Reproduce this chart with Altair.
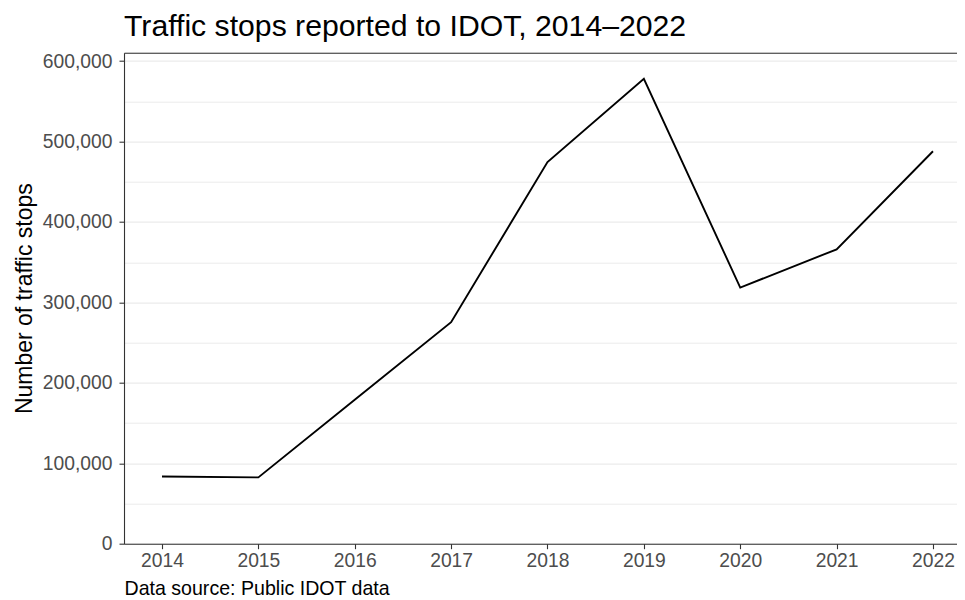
import altair as alt
import pandas as pd

years = [2014, 2015, 2016, 2017, 2018, 2019, 2020, 2021, 2022]
stops = [83600, 82400, 179000, 275500, 474500, 578000, 318500, 366000, 488000]

major_ticks = [0, 100000, 200000, 300000, 400000, 500000, 600000]
minor_ticks = [50000, 150000, 250000, 350000, 450000, 550000]

df = pd.DataFrame({"year": years, "stops": stops})

FONT = "Liberation Sans"
W, H = 833, 491
x_dom = [2013.606, 2022.249]
y_dom = [0, 610500]

x_scale = alt.Scale(domain=x_dom, nice=False, zero=False)
y_scale = alt.Scale(domain=y_dom, nice=False)

frame = alt.Chart(df).mark_line(opacity=0).encode(
    x=alt.X("year:Q", scale=x_scale,
            axis=alt.Axis(orient="top", domain=True, domainColor="#333333", domainWidth=1.1,
                          labels=False, ticks=False, grid=False, title=None)),
    y=alt.Y("stops:Q", scale=y_scale,
            axis=alt.Axis(orient="right", values=minor_ticks, domain=False, labels=False,
                          ticks=False, grid=True, gridColor="#ebebeb", gridWidth=1,
                          title=None)),
)

line = alt.Chart(df).mark_line(color="#000000", strokeWidth=1.9).encode(
    x=alt.X("year:Q", scale=x_scale,
            axis=alt.Axis(orient="bottom", values=years, format="d", grid=False,
                          domain=True, domainColor="#333333", domainWidth=1.1,
                          ticks=True, tickColor="#333333", tickSize=5, tickWidth=1.1,
                          labelColor="#4d4d4d", labelFontSize=19.3, labelFont=FONT,
                          labelPadding=3, labelFlush=False,
                          title="Data source: Public IDOT data", titleAnchor="start",
                          titleAlign="left", titleColor="#000000", titleFont=FONT,
                          titleFontSize=19.6, titleFontWeight="normal", titlePadding=9)),
    y=alt.Y("stops:Q", scale=y_scale,
            axis=alt.Axis(orient="left", values=major_ticks, format=",d", grid=True,
                          gridColor="#ebebeb", gridWidth=1.2,
                          domain=True, domainColor="#333333", domainWidth=1.1,
                          ticks=True, tickColor="#333333", tickSize=5, tickWidth=1.1,
                          labelColor="#4d4d4d", labelFontSize=19.3, labelFont=FONT,
                          labelPadding=7, labelFlush=False,
                          title="Number of traffic stops", titleColor="#000000",
                          titleFont=FONT, titleFontSize=23, titleFontWeight="normal",
                          titlePadding=6)),
)

chart = alt.layer(frame, line).resolve_axis(x="independent", y="independent").properties(
    width=W,
    height=H,
    title=alt.TitleParams("Traffic stops reported to IDOT, 2014\u20132022", anchor="start",
                          frame="group", fontSize=30.2, fontWeight="normal", font=FONT,
                          color="#000000", baseline="alphabetic", offset=17, dy=31),
    autosize=alt.AutoSizeParams(type="none"),
    padding={"left": 116, "top": 44.7, "right": 0, "bottom": 56},
).configure_view(stroke=None).configure(background="white")

chart.save("out.html", embed_options={"renderer": "svg", "actions": False})
